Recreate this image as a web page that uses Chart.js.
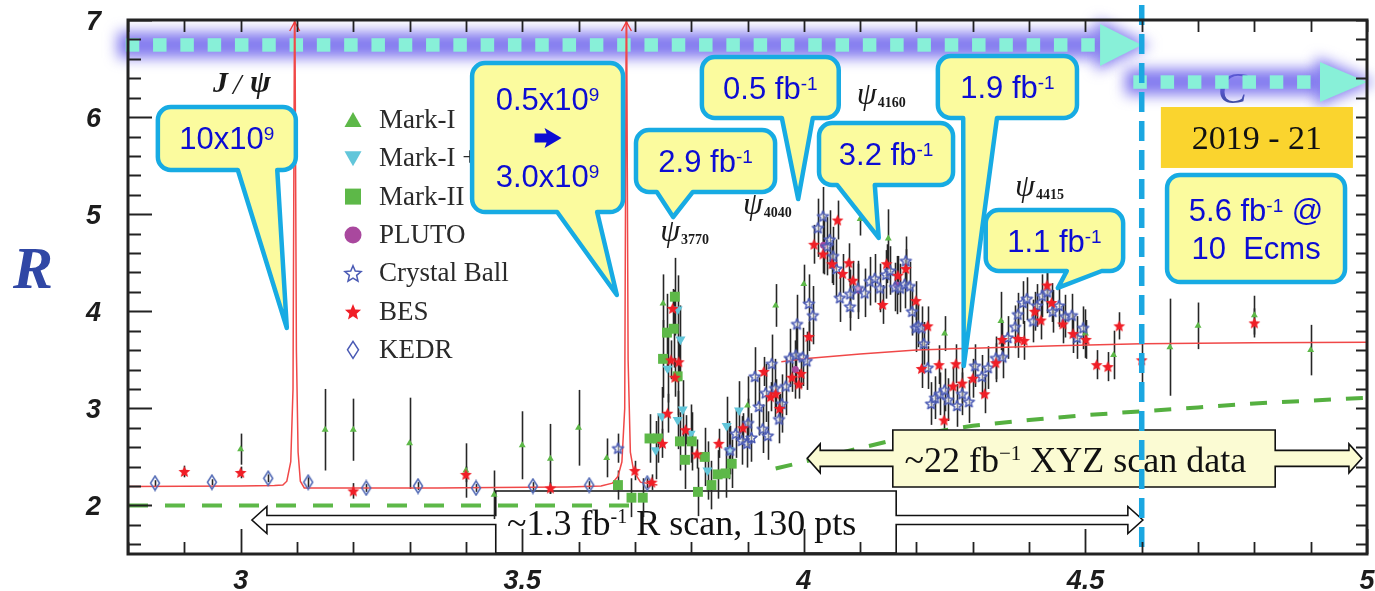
<!DOCTYPE html>
<html>
<head>
<meta charset="utf-8">
<title>R ratio scan</title>
<script src="https://cdn.jsdelivr.net/npm/chart.js@4.4.1/dist/chart.umd.min.js"></script>
<style>
  html, body { margin: 0; padding: 0; background: #ffffff; }
  #box { position: relative; width: 1375px; height: 591px; }
</style>
</head>
<body>
<div id="box"><canvas id="chart" width="1375" height="591"></canvas></div>
<script>
// Axis ticks: centre-of-mass energy (GeV) and R
const xTickValues = [3, 3.5, 4, 4.5, 5];
const yTickValues = [2, 3, 4, 5, 6, 7];

// Measurements, each entry [E (GeV), R, error]
const markI = [
  [3.00,2.58,0.16],[3.15,2.78,0.42],[3.20,2.78,0.32],[3.30,2.64,0.47],[3.40,2.36,0.28],
  [3.45,2.11,0.25],[3.50,2.62,0.35],[3.55,2.48,0.36],[3.60,2.80,0.39],[3.65,2.49,0.20],
  [3.75,4.08,0.30],[3.90,3.03,0.30],[3.95,4.06,0.22],[4.00,4.28,0.20],[4.10,4.95,0.17],
  [4.15,4.75,0.30],[4.25,3.77,0.18],[4.35,3.90,0.30],[4.50,3.77,0.25],[4.55,3.55,0.25],
  [4.65,3.63,0.50],[4.70,3.85,0.24],[4.80,3.96,0.20],[4.90,3.60,0.26]
];
const markILGW = [
  [3.737,2.57,0.30],[3.748,2.92,0.30],[3.758,3.41,0.35],[3.776,4.02,0.35],[3.781,3.71,0.35],
  [3.776,2.88,0.30],[3.785,2.99,0.30],[3.799,2.74,0.30],[3.829,2.36,0.30],[3.863,2.82,0.30],
  [3.868,2.57,0.30],[3.885,2.98,0.30]
];
const markII = [
  [3.670,2.21,0.15],[3.694,2.08,0.20],[3.714,2.08,0.20],[3.726,2.69,0.25],[3.741,2.69,0.25],
  [3.750,3.51,0.40],[3.757,3.78,0.40],[3.769,3.82,0.40],[3.771,4.15,0.40],[3.776,3.33,0.40],
  [3.780,2.66,0.30],[3.789,2.47,0.30],[3.801,2.66,0.30],[3.812,2.14,0.25],[3.824,2.50,0.30],
  [3.836,2.21,0.25],[3.847,2.32,0.25],[3.861,2.33,0.25],[3.872,2.43,0.25]
];
const pluto = [
  [3.985,3.40,0.30],[4.035,4.68,0.30],[4.097,4.22,0.30],[4.165,4.27,0.30]
];
const crystalBall = [
  [3.670,2.59,0.15],[3.869,2.57,0.25],[3.879,2.74,0.25],[3.890,2.67,0.25],[3.899,2.64,0.25],
  [3.901,2.85,0.25],[3.907,2.70,0.25],[3.913,3.33,0.30],[3.920,3.02,0.30],[3.927,2.79,0.25],
  [3.932,3.16,0.30],[3.936,2.72,0.25],[3.943,3.46,0.30],[3.949,3.21,0.30],[3.956,2.89,0.25],
  [3.961,3.05,0.30],[3.968,3.23,0.30],[3.975,3.52,0.30],[3.986,3.55,0.30],[3.988,3.87,0.30],
  [3.998,3.53,0.30],[4.005,3.49,0.30],[4.009,4.08,0.30],[4.016,3.96,0.30],[4.025,4.86,0.30],
  [4.034,4.98,0.30],[4.041,4.67,0.30],[4.046,4.74,0.30],[4.052,4.57,0.30],[4.058,4.44,0.30],
  [4.064,4.14,0.25],[4.082,4.05,0.25],[4.082,4.18,0.25],[4.096,4.24,0.25],[4.108,4.19,0.25],
  [4.117,4.31,0.25],[4.126,4.34,0.25],[4.135,4.24,0.25],[4.146,4.38,0.25],[4.153,4.42,0.25],
  [4.162,4.25,0.25],[4.171,4.24,0.25],[4.179,4.28,0.25],[4.181,4.52,0.25],[4.188,4.26,0.25],
  [4.192,4.00,0.25],[4.199,3.83,0.25],[4.203,3.85,0.22],[4.209,3.83,0.22],[4.213,3.67,0.22],
  [4.220,3.42,0.22],[4.226,3.05,0.22],[4.233,3.11,0.22],[4.242,3.15,0.22],[4.250,3.19,0.22],
  [4.256,3.09,0.22],[4.272,3.03,0.22],[4.281,3.15,0.22],[4.293,3.07,0.22],[4.304,3.44,0.22],
  [4.316,3.33,0.22],[4.327,3.42,0.22],[4.341,3.52,0.22],[4.353,3.53,0.22],[4.362,3.73,0.22],
  [4.375,3.84,0.22],[4.380,3.97,0.22],[4.389,4.09,0.22],[4.396,4.13,0.22],[4.407,3.90,0.22],
  [4.414,4.06,0.22],[4.423,4.16,0.22],[4.432,4.20,0.22],[4.442,4.00,0.22],[4.453,4.06,0.22],
  [4.464,3.95,0.22],[4.476,3.96,0.22],[4.485,3.73,0.22],[4.496,3.83,0.22]
];
const bes = [
  [2.90,2.35,0.06],[3.00,2.34,0.06],[3.20,2.15,0.08],[3.40,2.32,0.08],[3.55,2.18,0.06],
  [3.70,2.36,0.10],[3.73,2.24,0.08],[3.749,2.64,0.15],[3.758,2.95,0.20],[3.764,3.50,0.20],
  [3.767,4.03,0.20],[3.771,3.32,0.20],[3.778,3.48,0.20],[3.790,2.78,0.15],[3.810,2.53,0.15],
  [3.849,2.64,0.15],[3.892,2.80,0.15],[3.929,3.38,0.15],[3.941,3.12,0.15],[3.950,3.15,0.15],
  [3.957,3.00,0.15],[3.979,3.32,0.15],[3.991,3.25,0.15],[3.995,3.36,0.15],[4.009,3.74,0.15],
  [4.018,4.69,0.20],[4.034,4.59,0.20],[4.050,4.49,0.20],[4.060,4.94,0.20],[4.069,4.39,0.20],
  [4.080,4.50,0.20],[4.087,4.32,0.20],[4.140,4.07,0.20],[4.147,4.49,0.20],[4.167,4.37,0.20],
  [4.181,4.44,0.20],[4.199,4.11,0.20],[4.209,3.41,0.20],[4.220,3.85,0.20],[4.240,3.45,0.20],
  [4.249,2.88,0.20],[4.265,3.23,0.20],[4.270,3.46,0.20],[4.281,3.26,0.20],[4.300,3.31,0.20],
  [4.321,3.15,0.20],[4.341,3.47,0.20],[4.352,3.71,0.20],[4.380,3.72,0.20],[4.391,3.70,0.20],
  [4.410,4.00,0.20],[4.421,3.91,0.20],[4.432,4.27,0.20],[4.440,4.09,0.20],[4.460,3.87,0.20],
  [4.478,3.77,0.20],[4.501,3.71,0.20],[4.520,3.45,0.15],[4.540,3.43,0.15],[4.560,3.85,0.14],
  [4.600,3.50,0.30],[4.800,3.88,0.15]
];
const kedr = [
  [2.848,2.23,0.03],[2.949,2.24,0.03],[3.049,2.28,0.04],[3.120,2.24,0.05],[3.223,2.18,0.04],
  [3.315,2.20,0.04],[3.418,2.18,0.04],[3.519,2.20,0.04],[3.619,2.21,0.04],[3.722,2.23,0.05]
];

// Curves: [E, R]
const resonanceCurve = [
  [2.80,2.195],[3.00,2.20],[3.060,2.205],[3.075,2.21],[3.082,2.25],[3.089,2.45],[3.093,3.2],
  [3.096,7.6],[3.099,3.6],[3.102,2.55],[3.106,2.25],[3.113,2.18],[3.20,2.18],[3.35,2.18],
  [3.45,2.185],[3.58,2.19],[3.64,2.20],[3.660,2.23],[3.670,2.30],[3.677,2.45],[3.682,3.0],
  [3.685,7.6],[3.688,3.5],[3.692,2.55],[3.698,2.35],[3.710,2.24],[3.740,2.21]
];
const pqcdCurve = [
  [3.96,3.48],[4.00,3.51],[4.10,3.56],[4.20,3.60],[4.30,3.62],[4.45,3.645],[4.60,3.665],
  [4.80,3.675],[5.00,3.68]
];
const udsBaseline = [[2.80,2.0],[3.70,2.0]];
const charmThreshold = [
  [3.95,2.38],[4.00,2.45],[4.10,2.59],[4.20,2.73],[4.30,2.82],[4.40,2.88],[4.50,2.93],
  [4.60,2.97],[4.70,3.01],[4.80,3.05],[4.90,3.08],[5.00,3.11]
];

// ---------- styling helpers ----------
const SANS = '"Liberation Sans", Arial, sans-serif';
const SERIF = '"Liberation Serif", "Times New Roman", serif';
const CALLOUT_FILL = '#fbfb9e';
const CALLOUT_EDGE = '#17abe3';
const CALLOUT_TEXT = '#0c0cd4';
const GREEN = '#5db848';
const CYAN = '#62c6da';
const PURPLE = '#a9489e';
const BLUE_MK = '#4a5ab4';
const RED = '#f01e26';
const TICK_FONT = 'italic bold 27px ' + SANS;

function starPath(ctx, cx, cy, R, inner) {
  ctx.beginPath();
  for (let i = 0; i < 10; i++) {
    const a = -Math.PI / 2 + i * Math.PI / 5;
    const r = i % 2 ? R * inner : R;
    const px = cx + r * Math.cos(a), py = cy + r * Math.sin(a);
    if (i) ctx.lineTo(px, py); else ctx.moveTo(px, py);
  }
  ctx.closePath();
}
function makeStar(size, fill, stroke, lw) {
  const c = document.createElement('canvas');
  c.width = c.height = size;
  const g = c.getContext('2d');
  starPath(g, size / 2, size / 2 + 0.6, size / 2 - lw - 0.3, 0.45);
  if (fill) { g.fillStyle = fill; g.fill(); }
  if (stroke) { g.strokeStyle = stroke; g.lineWidth = lw; g.lineJoin = 'round'; g.stroke(); }
  return c;
}
function makeDiamond(w, h, stroke, lw) {
  const c = document.createElement('canvas');
  c.width = w; c.height = h;
  const g = c.getContext('2d');
  g.beginPath();
  g.moveTo(w / 2, lw); g.lineTo(w - lw, h / 2); g.lineTo(w / 2, h - lw); g.lineTo(lw, h / 2);
  g.closePath();
  g.strokeStyle = stroke; g.lineWidth = lw; g.stroke();
  return c;
}
const imgStarOpen = makeStar(15, 'rgba(255,255,255,0.45)', BLUE_MK, 1.5);
const imgStarRed = makeStar(13, RED, null, 0);
const imgDiamond = makeDiamond(12, 17, '#5068b4', 1.5);

const pts = arr => arr.map(p => ({ x: p[0], y: p[1] }));
const errs = arr => arr.map(p => p[2]);

// ---------- annotations (positions in data units) ----------
const callouts = [
  { box: [2.853, 6.104, 3.098, 5.455], tail: [2.995, 3.065, 3.082, 3.828],
    lines: [{ segs: [['10x10', 0], ['9', 1]], dy: 11 }] },
  { box: [3.411, 6.557, 3.679, 5.022], tail: [3.562, 3.633, 3.668, 4.168],
    lines: [{ segs: [['0.5x10', 0], ['9', 1]], dy: -27.5 }, { arrow: true, dy: 0.5 },
            { segs: [['3.0x10', 0], ['9', 1]], dy: 49.5 }] },
  { box: [3.702, 5.867, 3.949, 5.229], tail: [3.739, 3.803, 3.768, 4.971],
    lines: [{ segs: [['2.9 fb', 0], ['-1', 1]], dy: 11 }] },
  { box: [3.819, 6.619, 4.062, 5.991], tail: [3.961, 4.016, 3.990, 5.156],
    lines: [{ segs: [['0.5 fb', 0], ['-1', 1]], dy: 11.5 }] },
  { box: [4.027, 5.939, 4.265, 5.301], tail: [4.059, 4.126, 4.133, 4.755],
    lines: [{ segs: [['3.2 fb', 0], ['-1', 1]], dy: 11 }] },
  { box: [4.238, 6.629, 4.485, 5.991], tail: [4.283, 4.343, 4.284, 3.436],
    lines: [{ segs: [['1.9 fb', 0], ['-1', 1]], dy: 11.5 }] },
  { box: [4.323, 5.043, 4.567, 4.415], tail: [4.467, 4.529, 4.451, 4.240],
    lines: [{ segs: [['1.1 fb', 0], ['-1', 1]], dy: 11.5 }] },
  { box: [4.645, 5.404, 4.961, 4.301], tail: null,
    lines: [{ segs: [['5.6 fb', 0], ['-1', 1], [' @', 0]], dy: -7.5 },
            { segs: [['10  Ecms', 0]], dy: 30.5 }] }
];
const resonanceLabels = [
  { psi: 'ψ', sub: '3770', E: 3.745, R: 4.724 },
  { psi: 'ψ', sub: '4040', E: 3.892, R: 5.002 },
  { psi: 'ψ', sub: '4160', E: 4.094, R: 6.135 },
  { psi: 'ψ', sub: '4415', E: 4.375, R: 5.187 }
];
const legendItems = [
  { label: 'Mark-I', kind: 'triUp' },
  { label: 'Mark-I + LGW', kind: 'triDown' },
  { label: 'Mark-II', kind: 'square' },
  { label: 'PLUTO', kind: 'circle' },
  { label: 'Crystal Ball', kind: 'starOpen' },
  { label: 'BES', kind: 'starRed' },
  { label: 'KEDR', kind: 'diamond' }
];

// ---------- drawing helpers ----------
function drawRich(ctx, segs, cx, baseline, font, supFont, raise, color) {
  ctx.fillStyle = color;
  ctx.textAlign = 'left';
  ctx.textBaseline = 'alphabetic';
  let w = 0;
  segs.forEach(([t, s]) => { ctx.font = s ? supFont : font; w += ctx.measureText(t).width; });
  let x = cx - w / 2;
  segs.forEach(([t, s]) => {
    ctx.font = s ? supFont : font;
    ctx.fillText(t, x, s ? baseline - raise : baseline);
    x += ctx.measureText(t).width;
  });
}
function drawBlockArrow(ctx, cx, cy) {
  ctx.beginPath();
  ctx.moveTo(cx - 13, cy - 4.5); ctx.lineTo(cx - 1, cy - 4.5); ctx.lineTo(cx - 3, cy - 10);
  ctx.lineTo(cx + 14, cy); ctx.lineTo(cx - 3, cy + 10); ctx.lineTo(cx - 1, cy + 4.5);
  ctx.lineTo(cx - 13, cy + 4.5); ctx.closePath();
  ctx.fill();
}
function drawCallout(ctx, X, Y, c) {
  const x0 = X(c.box[0]), y0 = Y(c.box[1]), x1 = X(c.box[2]), y1 = Y(c.box[3]);
  const r = 13;
  ctx.save();
  ctx.beginPath();
  ctx.moveTo(x0 + r, y0);
  ctx.arcTo(x1, y0, x1, y1, r);
  ctx.arcTo(x1, y1, x0, y1, r);
  if (c.tail) {
    ctx.lineTo(X(c.tail[1]), y1);
    ctx.lineTo(X(c.tail[2]), Y(c.tail[3]));
    ctx.lineTo(X(c.tail[0]), y1);
  }
  ctx.arcTo(x0, y1, x0, y0, r);
  ctx.arcTo(x0, y0, x1, y0, r);
  ctx.closePath();
  ctx.fillStyle = CALLOUT_FILL;
  ctx.fill();
  ctx.lineJoin = 'round';
  ctx.lineWidth = 4.5;
  ctx.strokeStyle = CALLOUT_EDGE;
  ctx.stroke();
  const cx = (x0 + x1) / 2, cy = (y0 + y1) / 2;
  c.lines.forEach(l => {
    ctx.fillStyle = CALLOUT_TEXT;
    if (l.arrow) drawBlockArrow(ctx, cx, cy + l.dy);
    else drawRich(ctx, l.segs, cx, cy + l.dy, '31px ' + SANS, '19px ' + SANS, 9, CALLOUT_TEXT);
  });
  ctx.restore();
}
function doubleArrow(ctx, xl, xr, yc, b, shaftH, headH, headL, fill) {
  ctx.beginPath();
  ctx.moveTo(xl, yc);
  ctx.lineTo(xl + headL, yc - headH);
  ctx.lineTo(xl + headL, yc - shaftH);
  ctx.lineTo(b.l, yc - shaftH);
  ctx.lineTo(b.l, b.t);
  ctx.lineTo(b.r, b.t);
  ctx.lineTo(b.r, yc - shaftH);
  ctx.lineTo(xr - headL, yc - shaftH);
  ctx.lineTo(xr - headL, yc - headH);
  ctx.lineTo(xr, yc);
  ctx.lineTo(xr - headL, yc + headH);
  ctx.lineTo(xr - headL, yc + shaftH);
  ctx.lineTo(b.r, yc + shaftH);
  ctx.lineTo(b.r, b.b);
  ctx.lineTo(b.l, b.b);
  ctx.lineTo(b.l, yc + shaftH);
  ctx.lineTo(xl + headL, yc + shaftH);
  ctx.lineTo(xl + headL, yc + headH);
  ctx.closePath();
  ctx.fillStyle = fill;
  ctx.fill();
  ctx.lineWidth = 1.6;
  ctx.strokeStyle = '#111';
  ctx.lineJoin = 'miter';
  ctx.stroke();
}
function glowArrow(ctx, x0, xb, xt, y, headH) {
  ctx.save();
  ctx.filter = 'blur(7px)';
  ctx.fillStyle = 'rgba(104,94,236,0.82)';
  ctx.fillRect(x0 - 8, y - 13, xb - x0 + 10, 26);
  ctx.beginPath();
  ctx.moveTo(xb - 4, y - headH - 5); ctx.lineTo(xt + 9, y); ctx.lineTo(xb - 4, y + headH + 5);
  ctx.closePath();
  ctx.fill();
  ctx.restore();
  ctx.save();
  ctx.fillStyle = '#88f0d8';
  const sq = 13.5, period = 27.3;
  for (let x = x0; x < xb - 2; x += period) ctx.fillRect(x, y - sq / 2, Math.min(sq, xb - x), sq);
  ctx.beginPath();
  ctx.moveTo(xb, y - headH); ctx.lineTo(xt, y); ctx.lineTo(xb, y + headH);
  ctx.closePath();
  ctx.fill();
  ctx.restore();
}
function drawMarker(ctx, kind, x, y) {
  ctx.save();
  switch (kind) {
    case 'triUp':
      ctx.fillStyle = GREEN; ctx.beginPath();
      ctx.moveTo(x, y - 8); ctx.lineTo(x + 8.5, y + 7); ctx.lineTo(x - 8.5, y + 7); ctx.closePath(); ctx.fill();
      break;
    case 'triDown':
      ctx.fillStyle = CYAN; ctx.beginPath();
      ctx.moveTo(x, y + 8); ctx.lineTo(x + 8.5, y - 7); ctx.lineTo(x - 8.5, y - 7); ctx.closePath(); ctx.fill();
      break;
    case 'square':
      ctx.fillStyle = GREEN; ctx.fillRect(x - 8, y - 8, 16, 16);
      break;
    case 'circle':
      ctx.fillStyle = PURPLE; ctx.beginPath(); ctx.arc(x, y, 8.5, 0, Math.PI * 2); ctx.fill();
      break;
    case 'starOpen':
      starPath(ctx, x, y + 1, 8.5, 0.45); ctx.strokeStyle = BLUE_MK; ctx.lineWidth = 1.5; ctx.stroke();
      break;
    case 'starRed':
      starPath(ctx, x, y + 1, 8.5, 0.45); ctx.fillStyle = RED; ctx.fill();
      break;
    case 'diamond':
      ctx.beginPath(); ctx.moveTo(x, y - 8.5); ctx.lineTo(x + 5.5, y); ctx.lineTo(x, y + 8.5); ctx.lineTo(x - 5.5, y);
      ctx.closePath(); ctx.strokeStyle = BLUE_MK; ctx.lineWidth = 1.5; ctx.stroke();
      break;
  }
  ctx.restore();
}

// ---------- overlay plugin ----------
const overlayPlugin = {
  id: 'overlay',
  beforeDatasetsDraw(chart) {
    const { ctx, chartArea: a } = chart;
    const xs = chart.scales.x, ys = chart.scales.y;
    const X = v => xs.getPixelForValue(v), Y = v => ys.getPixelForValue(v);
    ctx.save();
    // R-scan range arrow
    const rb = { l: X(3.453), r: X(4.164), t: Y(2.149), b: Y(1.51) };
    doubleArrow(ctx, X(3.020), X(4.602), Y(1.85), rb, 4.5, 13.5, 15, '#ffffff');
    drawRich(ctx, [['~1.3 fb', 0], ['-1', 1], [' R scan, 130 pts', 0]], X(3.783), Y(1.696),
      '36px ' + SERIF, '20px ' + SERIF, 12, '#111');
    // label partly hidden under the second run arrow
    ctx.font = 'italic 44px ' + SERIF;
    ctx.fillStyle = '#3a4a9c';
    ctx.textAlign = 'left';
    ctx.textBaseline = 'alphabetic';
    ctx.fillText('C', X(4.735), Y(6.145));
    // data-taking timeline arrows
    glowArrow(ctx, X(2.796), X(4.526), X(4.600), Y(6.743), 21);
    glowArrow(ctx, X(4.585), X(4.9165), X(5.0), Y(6.361), 20);
    // error bars
    ctx.beginPath();
    ctx.rect(a.left, a.top, a.right - a.left, a.bottom - a.top);
    ctx.clip();
    ctx.strokeStyle = '#262626';
    ctx.lineWidth = 1.6;
    chart.data.datasets.forEach(ds => {
      if (!ds.errs) return;
      ds.data.forEach((p, j) => {
        const e = ds.errs[j];
        const px = Math.round(X(p.x)) + 0.5;
        ctx.beginPath();
        ctx.moveTo(px, Y(p.y - e));
        ctx.lineTo(px, Y(p.y + e));
        ctx.stroke();
      });
    });
    ctx.restore();
  },
  afterDatasetsDraw(chart) {
    const { ctx } = chart;
    const xs = chart.scales.x, ys = chart.scales.y;
    const X = v => xs.getPixelForValue(v), Y = v => ys.getPixelForValue(v);
    ctx.save();
    // arrow tips marking the off-scale resonance peaks
    ctx.strokeStyle = '#ee3a3a';
    ctx.lineWidth = 1.4;
    [3.096, 3.685].forEach(E => {
      const px = X(E), top = Y(7);
      ctx.beginPath();
      ctx.moveTo(px - 5, top + 11); ctx.lineTo(px, top + 2); ctx.lineTo(px + 5, top + 11);
      ctx.stroke();
    });
    // XYZ scan range arrow
    const xb = { l: X(4.158), r: X(4.837), t: Y(2.777), b: Y(2.19) };
    doubleArrow(ctx, X(4.006), X(4.991), Y(2.485), xb, 8, 14.5, 13, '#fbfbd3');
    drawRich(ctx, [['~22 fb', 0], ['\u22121', 1], [' XYZ scan data', 0]], X(4.482), Y(2.345),
      '36px ' + SERIF, '21px ' + SERIF, 12, '#111');
    // legend
    const a = chart.chartArea;
    legendItems.forEach((it, i) => {
      const ry = a.top + 100 + i * 38.3;
      drawMarker(ctx, it.kind, a.left + 225, ry);
      ctx.font = '27px ' + SERIF;
      ctx.fillStyle = '#2a2a2a';
      ctx.textAlign = 'left';
      ctx.textBaseline = 'alphabetic';
      ctx.fillText(it.label, a.left + 251, ry + 8);
    });
    // resonance names
    ctx.fillStyle = '#1a1a1a';
    ctx.textBaseline = 'alphabetic';
    ctx.textAlign = 'left';
    const jx = X(2.951), jy = Y(6.258);
    ctx.font = 'italic bold 30px ' + SERIF;
    ctx.fillText('J', jx, jy);
    ctx.font = 'italic 30px ' + SERIF;
    ctx.fillText('/', jx + 20, jy + 2);
    ctx.font = 'italic bold 31px ' + SERIF;
    ctx.fillText('ψ', jx + 37, jy);
    resonanceLabels.forEach(l => {
      const px = X(l.E), py = Y(l.R);
      ctx.font = 'italic 32px ' + SERIF;
      ctx.fillText(l.psi, px, py);
      const w = ctx.measureText(l.psi).width;
      ctx.font = 'bold 14px ' + SERIF;
      ctx.fillText(l.sub, px + w + 1, py + 3);
    });
    // luminosity callouts
    callouts.forEach(c => drawCallout(ctx, X, Y, c));
    // run period tag
    const gx0 = X(4.634), gy0 = Y(6.104), gx1 = X(4.975), gy1 = Y(5.476);
    ctx.fillStyle = '#fad42e';
    ctx.fillRect(gx0, gy0, gx1 - gx0, gy1 - gy0);
    ctx.fillStyle = '#111';
    ctx.font = '34px ' + SERIF;
    ctx.textAlign = 'center';
    ctx.fillText('2019 - 21', (gx0 + gx1) / 2, (gy0 + gy1) / 2 + 12);
    // boundary of the existing data set
    ctx.strokeStyle = '#1ba7e1';
    ctx.lineWidth = 5.5;
    ctx.setLineDash([20, 9]);
    ctx.beginPath();
    ctx.moveTo(X(4.6), 5);
    ctx.lineTo(X(4.6), Y(1.5));
    ctx.stroke();
    ctx.setLineDash([]);
    // axis title
    ctx.font = 'italic bold 60px ' + SERIF;
    ctx.fillStyle = '#3047a5';
    ctx.textAlign = 'center';
    ctx.fillText('R', 33, 288);
    ctx.restore();
  },
  afterDraw(chart) {
    const { ctx, chartArea: a } = chart;
    const xs = chart.scales.x, ys = chart.scales.y;
    ctx.save();
    // inward tick marks on all four sides
    ctx.strokeStyle = '#222';
    ctx.lineWidth = 1.8;
    ctx.beginPath();
    for (let i = 28; i <= 50; i++) {
      const px = Math.round(xs.getPixelForValue(i / 10)) + 0.5;
      const major = i % 5 === 0;
      ctx.moveTo(px, a.bottom); ctx.lineTo(px, a.bottom - (major ? 25 : 12));
      ctx.moveTo(px, a.top); ctx.lineTo(px, a.top + 12);
    }
    for (let i = 16; i <= 70; i += 2) {
      const py = Math.round(ys.getPixelForValue(i / 10)) + 0.5;
      const major = i % 10 === 0;
      ctx.moveTo(a.left, py); ctx.lineTo(a.left + (major ? 24 : 13), py);
      ctx.moveTo(a.right, py); ctx.lineTo(a.right - 11, py);
    }
    ctx.stroke();
    ctx.lineWidth = 3;
    ctx.strokeRect(a.left, a.top, a.right - a.left, a.bottom - a.top);
    // tick labels
    ctx.font = TICK_FONT;
    ctx.fillStyle = '#1c1c1c';
    ctx.textAlign = 'center';
    ctx.textBaseline = 'alphabetic';
    xTickValues.forEach(v => ctx.fillText(String(v), xs.getPixelForValue(v), a.bottom + 35));
    ctx.textAlign = 'right';
    yTickValues.forEach(v => ctx.fillText(String(v), a.left - 27, ys.getPixelForValue(v) + 10));
    ctx.restore();
  }
};

// ---------- chart ----------
const lineDs = (data, color, width, dash) => ({
  type: 'line', data: pts(data), showLine: true, borderColor: color, borderWidth: width,
  borderDash: dash, pointRadius: 0, fill: false, tension: 0, order: 10
});

new Chart(document.getElementById('chart'), {
  type: 'scatter',
  data: {
    datasets: [
      { label: 'BES', data: pts(bes), errs: errs(bes), pointStyle: imgStarRed, pointRadius: 6, order: 0 },
      { label: 'Crystal Ball', data: pts(crystalBall), errs: errs(crystalBall), pointStyle: imgStarOpen, pointRadius: 7, order: 1 },
      { label: 'Mark-II', data: pts(markII), errs: errs(markII), pointStyle: 'rect', pointRadius: 7,
        backgroundColor: GREEN, borderColor: GREEN, borderWidth: 0, order: 2 },
      { label: 'Mark-I + LGW', data: pts(markILGW), errs: errs(markILGW), pointStyle: 'triangle', pointRotation: 180,
        pointRadius: 5.8, backgroundColor: CYAN, borderColor: CYAN, borderWidth: 0, order: 3 },
      { label: 'Mark-I', data: pts(markI), errs: errs(markI), pointStyle: 'triangle', pointRadius: 4,
        backgroundColor: GREEN, borderColor: GREEN, borderWidth: 0, order: 4 },
      { label: 'PLUTO', data: pts(pluto), errs: errs(pluto), pointStyle: 'circle', pointRadius: 3.5,
        backgroundColor: PURPLE, borderColor: PURPLE, borderWidth: 0, order: 5 },
      { label: 'KEDR', data: pts(kedr), errs: errs(kedr), pointStyle: imgDiamond, pointRadius: 6, order: 6 },
      lineDs(resonanceCurve, '#f04848', 1.5, []),
      lineDs(pqcdCurve, '#f04848', 1.5, []),
      lineDs(udsBaseline, '#5db848', 4, [20, 17]),
      lineDs(charmThreshold, '#55b040', 4, [17, 15])
    ]
  },
  options: {
    responsive: false,
    animation: false,
    devicePixelRatio: 1,
    events: [],
    layout: { padding: { left: 0, top: 20, right: 8, bottom: 0 } },
    plugins: { legend: { display: false }, tooltip: { enabled: false } },
    scales: {
      x: {
        type: 'linear', min: 2.8, max: 5.0,
        grid: { display: false, drawTicks: false },
        border: { display: false },
        afterBuildTicks: s => { s.ticks = xTickValues.map(v => ({ value: v })); },
        afterFit: s => { s.height = 37; },
        ticks: { display: false }
      },
      y: {
        type: 'linear', min: 1.5, max: 7,
        grid: { display: false, drawTicks: false },
        border: { display: false },
        afterBuildTicks: s => { s.ticks = yTickValues.map(v => ({ value: v })); },
        afterFit: s => { s.width = 128; },
        ticks: { display: false }
      }
    }
  },
  plugins: [overlayPlugin]
});
</script>
</body>
</html>
